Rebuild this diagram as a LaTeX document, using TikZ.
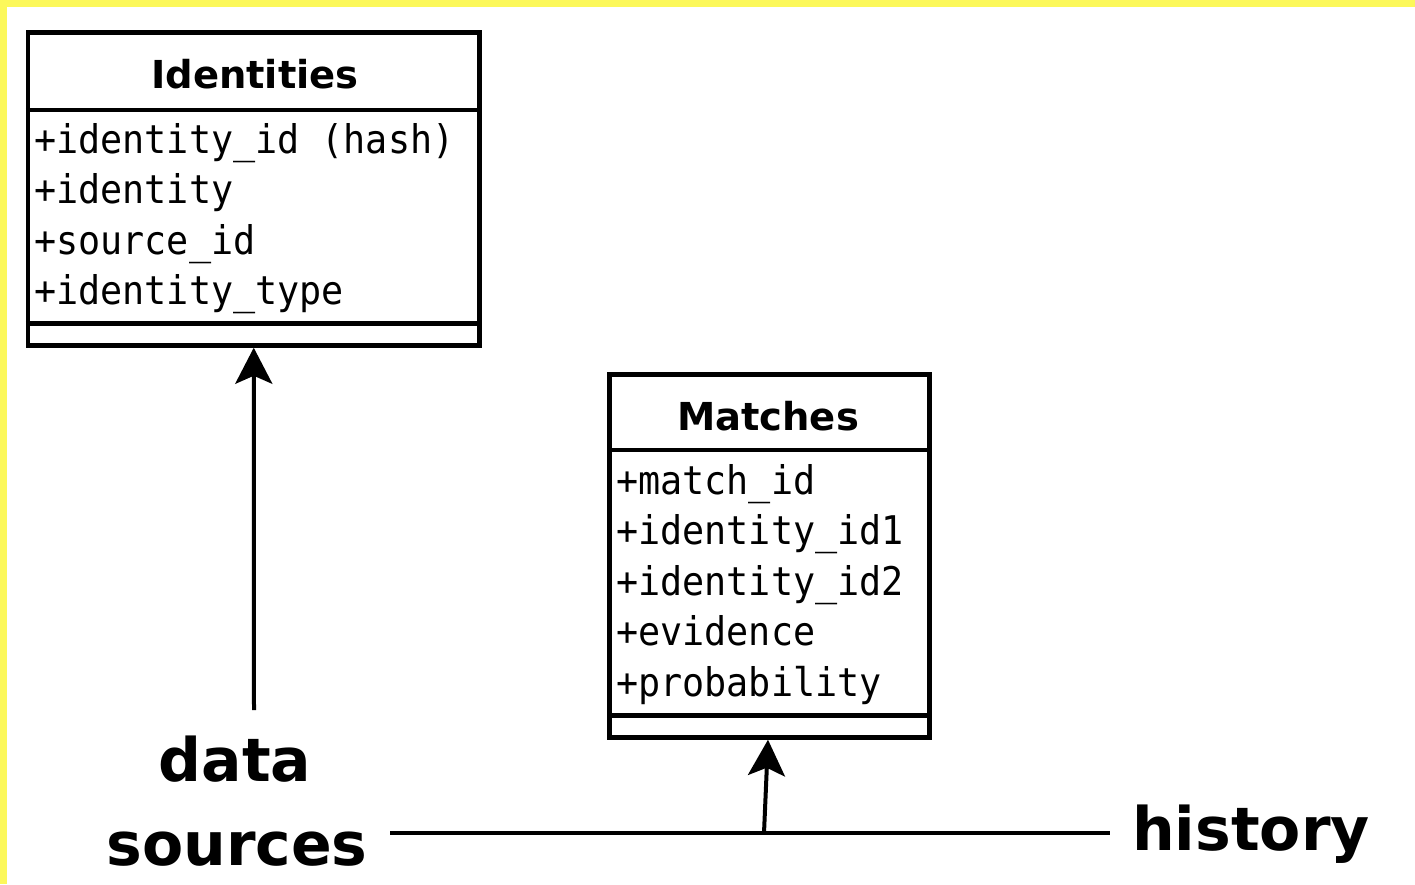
\documentclass[tikz,border=0pt]{standalone}
\usepackage{fontspec}
\setmainfont{DejaVu Sans}
\newfontfamily\titlefont{DejaVu Sans Bold}
\newfontfamily\attrfont[FakeStretch=0.93]{DejaVu Sans Mono}
\newfontfamily\labelfont{DejaVu Sans Bold}
\usetikzlibrary{arrows.meta}
\definecolor{bordery}{RGB}{252,248,90}
\tikzset{
  classbox/.style={draw=black, line width=4.5pt, fill=white, rectangle, inner sep=0pt},
  sepline/.style={line width=4.5pt},
  title/.style={font=\titlefont\fontsize{38.5}{38.5}\selectfont, anchor=base, inner sep=0pt},
  attr/.style={font=\attrfont\fontsize{39.5}{39.5}\selectfont, anchor=base west, inner sep=0pt},
  biglabel/.style={font=\labelfont\fontsize{60}{60}\selectfont, anchor=base, inner sep=0pt},
  conn/.style={line width=4pt},
  arr/.style={conn, -{Stealth[length=36pt,width=37pt,inset=8pt]}}
}
\begin{document}
\begin{tikzpicture}[x=1pt,y=-1pt]
\useasboundingbox (0,0) rectangle (1415,884);
\fill[white] (0,0) rectangle (1415,884);
\fill[bordery] (0,0) rectangle (1415,7);
\fill[bordery] (0,0) rectangle (7,884);

% Identities class
\node[classbox, minimum width=451.5pt, minimum height=313pt] (ident) at (253.75,189) {};
\draw[sepline] (ident.west |- 0,110) -- (ident.east |- 0,110);
\draw[sepline] (ident.west |- 0,323.5) -- (ident.east |- 0,323.5);
\node[title] (identT) at (255,88) {Identities};
\node[attr] (ia1) at (34,153) {+identity\_id (hash)};
\node[attr] (ia2) at (34,203.5) {+identity};
\node[attr] (ia3) at (34,254) {+source\_id};
\node[attr] (ia4) at (34,304.5) {+identity\_type};

% Matches class
\node[classbox, minimum width=320pt, minimum height=363pt] (match) at (769.5,556) {};
\draw[sepline] (match.west |- 0,450) -- (match.east |- 0,450);
\draw[sepline] (match.west |- 0,715.5) -- (match.east |- 0,715.5);
\node[title] (matchT) at (768,430) {Matches};
\node[attr] (ma1) at (616,494) {+match\_id};
\node[attr] (ma2) at (616,544.5) {+identity\_id1};
\node[attr] (ma3) at (616,595) {+identity\_id2};
\node[attr] (ma4) at (616,645.5) {+evidence};
\node[attr] (ma5) at (616,696) {+probability};

% labels
\node[biglabel] (data) at (235,781) {data};
\node[biglabel] (sources) at (237,865) {sources};
\node[biglabel] (history) at (1251,850) {history};

% connectors
\coordinate (dsTop) at (254,710);
\coordinate (lineL) at (390,833);
\coordinate (lineR) at (1110,833);
\coordinate (junc) at (764,833);
\draw[arr] (dsTop) -- (ident.south);
\draw[conn] (lineL) -- (lineR);
\draw[arr] (junc) -- (match.south -| 768,0);
\end{tikzpicture}
\end{document}
